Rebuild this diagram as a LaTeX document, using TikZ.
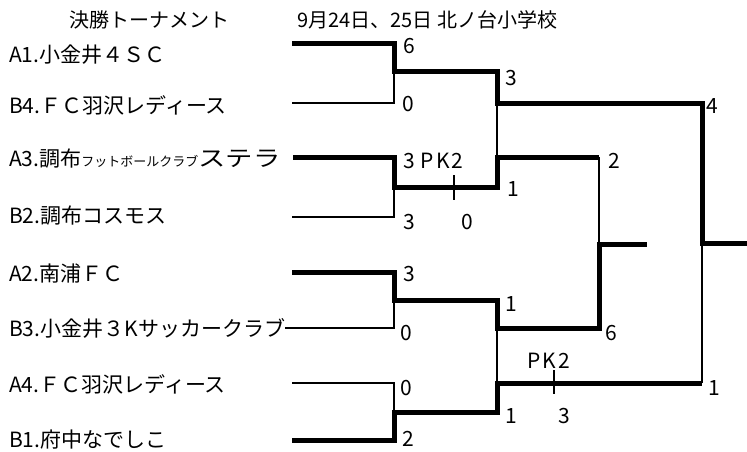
\documentclass[tikz,border=0pt]{standalone}
\usepackage{fontspec}
\setmainfont{Noto Sans CJK JP}
\begin{document}
\begin{tikzpicture}[x=1pt,y=-1pt,
  thickln/.style={line width=5pt,line join=miter,line cap=butt},
  thinln/.style={line width=1.4pt,line join=miter,line cap=butt},
  lbl/.style={anchor=base west,inner sep=0pt,font=\fontsize{21}{21}\selectfont},
  head/.style={inner sep=0pt,font=\fontsize{20}{20}\selectfont},
  team/.style={anchor=base west,inner sep=0pt,font=\fontsize{21}{21}\selectfont}]
\useasboundingbox (0,0) rectangle (747,452);
% headings
\node[head,anchor=base] (h1) at (149,27.5) {決勝トーナメント};
\node[head,anchor=base west] (h2) at (297,27.5) {9月24日、25日 北ノ台小学校};
% team names
\node[team] (tA1) at (9,62.5) {A1.小金井４ＳＣ};
\node[team] (tB4) at (9,113.5) {B4.ＦＣ羽沢レディース};
\node[team] (tA3) at (9,166.5) {A3.調布{\fontsize{13}{13}\selectfont フットボールクラブ}\scalebox{1.3}[1.05]{ステラ}};
\node[team] (tB2) at (9,223.5) {B2.調布コスモス};
\node[team] (tA2) at (9,281.5) {A2.南浦ＦＣ};
\node[team] (tB3) at (9,336.5) {B3.小金井３Kサッカークラブ};
\node[team] (tA4) at (9,392.5) {A4.ＦＣ羽沢レディース};
\node[team] (tB1) at (9,447.5) {B1.府中なでしこ};
% coordinates
\coordinate (a1) at (292,44);  \coordinate (a1c) at (394,44);
\coordinate (b4) at (292,103); \coordinate (b4c) at (394,103);
\coordinate (a3) at (293,157); \coordinate (a3c) at (394,157);
\coordinate (b2) at (292,217); \coordinate (b2c) at (394,217);
\coordinate (a2) at (292,272); \coordinate (a2c) at (394,272);
\coordinate (b3) at (tB3.east|-0,328); \coordinate (b3c) at (394,328);
\coordinate (a4) at (292,383); \coordinate (a4c) at (394,383);
\coordinate (b1) at (292,440); \coordinate (b1c) at (394,440);
\coordinate (m1) at (394,72);  \coordinate (m1e) at (497,72);
\coordinate (m2) at (394,187); \coordinate (m2e) at (497,187);
\coordinate (m3) at (394,300); \coordinate (m3e) at (497,300);
\coordinate (m4) at (394,412); \coordinate (m4e) at (497,412);
\coordinate (s1) at (497,103); \coordinate (s1e) at (702,103);
\coordinate (s2) at (497,157); \coordinate (s2e) at (599,157);
\coordinate (s3) at (497,328); \coordinate (s3e) at (599,328);
\coordinate (s4) at (497,383); \coordinate (s4e) at (702,383);
\coordinate (t1) at (599,244); \coordinate (t1e) at (647,244);
\coordinate (f1) at (702,243); \coordinate (f1e) at (747,243);
\coordinate (pk1a) at (454,175); \coordinate (pk1b) at (454,200);
\coordinate (pk2a) at (554,370); \coordinate (pk2b) at (554,394);
% thin lines
\draw[thinln] (b4) -- (b4c) -- (m1);
\draw[thinln] (b2) -- (b2c) -- (m2);
\draw[thinln] (b3) -- (b3c) -- (m3);
\draw[thinln] (a4) -- (a4c) -- (m4);
\draw[thinln] (s1) -- (s2);
\draw[thinln] (s3) -- (s4);
\draw[thinln] (s2e) -- (t1);
\draw[thinln] (s4e) -- (f1);
\draw[thinln] (pk1a) -- (pk1b);
\draw[thinln] (pk2a) -- (pk2b);
% thick lines
\draw[thickln] (a1) -- (a1c) -- (m1) -- (m1e) -- (s1) -- (s1e) -- (f1) -- (f1e);
\draw[thickln] (a3) -- (a3c) -- (m2) -- (m2e) -- (s2) -- (s2e);
\draw[thickln] (a2) -- (a2c) -- (m3) -- (m3e) -- (s3) -- (s3e) -- (t1) -- (t1e);
\draw[thickln] (b1) -- (b1c) -- (m4) -- (m4e) -- (s4) -- (s4e);
% scores
\node[lbl] (sc1) at (403,53.5) {6};
\node[lbl] (sc2) at (402,111.5) {0};
\node[lbl] (sc3) at (505,85.5) {3};
\node[lbl] (sc4) at (403,168.5) {3\hspace{6pt}P\hspace{2pt}K\hspace{2pt}2};
\node[lbl] (sc5) at (507,196.5) {1};
\node[lbl] (sc6) at (403,229) {3};
\node[lbl] (sc7) at (461,229) {0};
\node[lbl] (sc8) at (706,113.5) {4};
\node[lbl] (sc9) at (608,168.5) {2};
\node[lbl] (sc10) at (403,281.5) {3};
\node[lbl] (sc11) at (505,311) {1};
\node[lbl] (sc12) at (400,340) {0};
\node[lbl] (sc13) at (605,340) {6};
\node[lbl] (sc14) at (527,368) {P\hspace{2pt}K\hspace{2pt}2};
\node[lbl] (sc15) at (400,395) {0};
\node[lbl] (sc16) at (708,395) {1};
\node[lbl] (sc17) at (505,423) {1};
\node[lbl] (sc18) at (558,423) {3};
\node[lbl] (sc19) at (402,446) {2};
\end{tikzpicture}
\end{document}
